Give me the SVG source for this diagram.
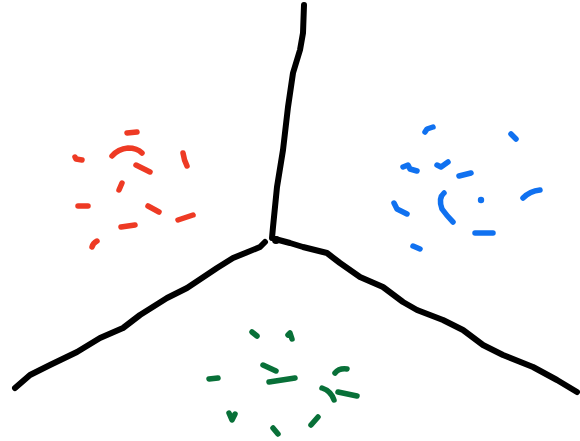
<svg xmlns="http://www.w3.org/2000/svg" width="580" height="441" viewBox="0 0 580 441">
<style>
path{fill:none;stroke-linecap:round;stroke-linejoin:round}
.k{stroke:#000;stroke-width:6}
.r{stroke:#ee3a24;stroke-width:5.5}
.b{stroke:#1071f0;stroke-width:5.5}
.g{stroke:#087038;stroke-width:5.5}
</style>
<rect width="580" height="441" fill="#fff"/>
<g id="lines">
<path class="k" d="M304 5 L303 33 L300 50 L293 73 L288 107 L283 150 L277 187 L273 227 L272 238"/>
<path class="k" d="M275 239 L290 243 L303 247 L327 253 L340 263 L360 277 L383 287 L403 302 L417 310 L443 320 L463 330 L483 345 L503 355 L533 367 L557 380 L577 392"/>
<path class="k" d="M265 242 L260 247 L233 258 L217 268 L187 288 L167 298 L140 315 L123 328 L100 338 L77 352 L50 365 L30 375 L15 388"/>
<circle cx="276" cy="240" r="4" fill="#000"/>
</g>
<g id="red">
<path class="r" d="M127 133 L137 132"/>
<path class="r" d="M112 156 Q118 149 128 148 Q137 148 142 153"/>
<path class="r" d="M75 157 L76 159 L82 160"/>
<path class="r" d="M183 153 Q184 160 187 166"/>
<path class="r" d="M136 165 L150 172"/>
<path class="r" d="M122 183 L119 190"/>
<path class="r" d="M78 206 L88 206"/>
<path class="r" d="M148 206 L159 212"/>
<path class="r" d="M178 220 L193 215"/>
<path class="r" d="M121 227 L135 225"/>
<path class="r" d="M92 247 Q93 243 97 241"/>
</g>
<g id="blue">
<path class="b" d="M425 132 L427 129 L433 127"/>
<path class="b" d="M511 134 L516 139"/>
<path class="b" d="M403 167 L408 165 L410 169 L417 171"/>
<path class="b" d="M437 165 L441 167 L448 162"/>
<path class="b" d="M459 176 L471 173"/>
<path class="b" d="M394 203 L397 209 L407 214"/>
<path class="b" d="M444 193 Q438 198 442 209 Q447 216 453 222"/>
<circle cx="481" cy="200" r="3.2" fill="#1071f0"/>
<path class="b" d="M523 198 Q530 191 540 190"/>
<path class="b" d="M475 233 L493 233"/>
<path class="b" d="M413 246 L420 249"/>
</g>
<g id="green">
<path class="g" d="M252 332 L257 336"/>
<path class="g" d="M288 335 L290 333 L292 339"/>
<path class="g" d="M263 365 L276 371"/>
<path class="g" d="M209 379 L218 378"/>
<path class="g" d="M269 382 L295 378"/>
<path class="g" d="M335 373 Q339 368 347 369"/>
<path class="g" d="M322 388 Q331 391 334 400"/>
<path class="g" d="M338 392 L357 396"/>
<path class="g" d="M229 413 L232 420 L235 414"/>
<path class="g" d="M273 428 L278 434"/>
<path class="g" d="M311 425 L318 417"/>
</g>
</svg>
